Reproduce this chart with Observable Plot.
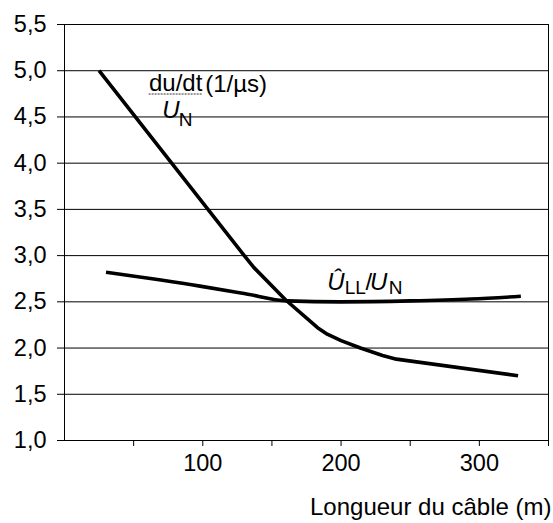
<!DOCTYPE html>
<html>
<head>
<meta charset="utf-8">
<script src="https://cdn.jsdelivr.net/npm/d3@7"></script>
<script src="https://cdn.jsdelivr.net/npm/@observablehq/plot@0.6"></script>
<style>
  html, body { margin: 0; padding: 0; background: #fff; }
</style>
</head>
<body>
<div id="chart"></div>
<script>
// Cable length (m) and values
const duLengths = [25, 130, 137, 160, 183, 190, 200, 214, 230, 240, 328];
const duValues  = [5.0, 3.0, 2.87, 2.52, 2.22, 2.15, 2.08, 2.0, 1.92, 1.88, 1.70];

const ullLengths = [30, 98, 130, 161, 200, 250, 294, 330];
const ullValues  = [2.82, 2.67, 2.59, 2.51, 2.50, 2.51, 2.53, 2.56];

const yTicks = [1.0, 1.5, 2.0, 2.5, 3.0, 3.5, 4.0, 4.5, 5.0, 5.5];
const xTicks = [50, 100, 150, 200, 250, 300, 350];
const xLabelled = [100, 200, 300];
const xTitle = "Longueur du câble (m)";

const duData = duLengths.map((x, i) => ({x, y: duValues[i]}));
const ullData = ullLengths.map((x, i) => ({x, y: ullValues[i]}));

const font = "'Liberation Sans', Arial, Helvetica, sans-serif";
const fs = 24, fsSub = 19, fsTick = 23.5;

const plot = Plot.plot({
  width: 553,
  height: 523,
  marginLeft: 64,
  marginRight: 5,
  marginTop: 24,
  marginBottom: 83,
  style: {fontFamily: font, fontSize: fs + "px", background: "#fff", color: "#000"},
  x: {domain: [0, 350]},
  y: {domain: [1, 5.5]},
  marks: [
    Plot.ruleY(yTicks, {stroke: "#000", strokeWidth: 1}),
    Plot.ruleX([0], {stroke: "#000", strokeWidth: 1}),
    Plot.ruleX([350], {stroke: "#000", strokeWidth: 1}),
    Plot.axisY({ticks: yTicks, tickSize: 7, tickPadding: 11, tickFormat: d => d.toFixed(1).replace(".", ","), label: null, fontSize: fsTick}),
    Plot.axisX({ticks: xTicks, tickSize: 6, tickPadding: 8, tickFormat: d => xLabelled.includes(d) ? String(d) : "", label: null, fontSize: fsTick}),
    Plot.line(ullData, {x: "x", y: "y", stroke: "#000", strokeWidth: 3.6, strokeLinecap: "butt", curve: "monotone-x"}),
    Plot.line(duData, {x: "x", y: "y", stroke: "#000", strokeWidth: 3.6, strokeLinecap: "butt", strokeLinejoin: "round"}),
    // du/dt over U_N (1/µs)
    Plot.text(["du/dt"], {x: 80.4, y: 4.859, text: d => d, textAnchor: "middle", fontSize: fs}),
    Plot.ruleY([4.748], {x1: 61.2, x2: 99.6, stroke: "#333", strokeWidth: 1, strokeDasharray: "2,1"}),
    Plot.text(["U"], {x: 70.6, y: 4.567, text: d => d, textAnchor: "start", fontSize: fs, fontStyle: "italic"}),
    Plot.text(["N"], {x: 82.6, y: 4.463, text: d => d, textAnchor: "start", fontSize: fsSub}),
    Plot.text(["(1/µs)"], {x: 101.8, y: 4.848, text: d => d, textAnchor: "start", fontSize: fs}),
    // Û_LL / U_N
    Plot.text(["Û"], {x: 190.0, y: 2.713, text: d => d, textAnchor: "start", fontSize: fs, fontStyle: "italic"}),
    Plot.text(["LL"], {x: 202.6, y: 2.656, text: d => d, textAnchor: "start", fontSize: fsSub}),
    Plot.text(["/"], {x: 217.6, y: 2.713, text: d => d, textAnchor: "start", fontSize: fs}),
    Plot.text(["U"], {x: 221.0, y: 2.713, text: d => d, textAnchor: "start", fontSize: fs, fontStyle: "italic"}),
    Plot.text(["N"], {x: 234.4, y: 2.656, text: d => d, textAnchor: "start", fontSize: fsSub}),
    // axis title
    Plot.text([xTitle], {frameAnchor: "bottom-right", text: d => d, textAnchor: "end", dx: 3, dy: 74, fontSize: fs})
  ]
});
document.getElementById("chart").appendChild(plot);
</script>
</body>
</html>
